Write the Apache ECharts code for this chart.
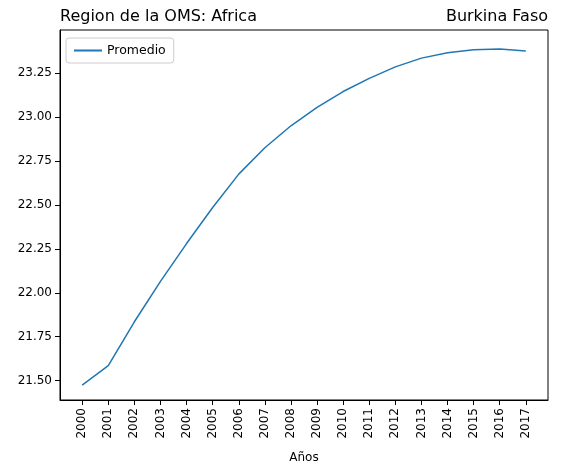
<!DOCTYPE html>
<html><head><meta charset="utf-8">
<script src="https://cdn.jsdelivr.net/npm/echarts@6/dist/echarts.min.js"></script>
<style>html,body{margin:0;padding:0;background:#fff}#c{width:565px;height:476px}</style>
</head><body><div id="c"></div>
<script>
const years = [2000,2001,2002,2003,2004,2005,2006,2007,2008,2009,2010,2011,2012,2013,2014,2015,2016,2017];
const promedio = [21.475,21.585,21.835,22.065,22.28,22.485,22.675,22.825,22.95,23.055,23.145,23.22,23.285,23.335,23.365,23.383,23.387,23.375];
const yTicks = [21.5,21.75,22.0,22.25,22.5,22.75,23.0,23.25];
const chart = echarts.init(document.getElementById('c'));
const font = 'DejaVu Sans';
chart.setOption({
  animation:false,
  textStyle:{fontFamily:font},
  title:[
    {text:'Region de la OMS: Africa',left:60,top:9,padding:0,textStyle:{fontFamily:font,fontSize:16,fontWeight:'normal',color:'#000'}},
    {text:'Burkina Faso',right:17,top:9,padding:0,textStyle:{fontFamily:font,fontSize:16,fontWeight:'normal',color:'#000'}}
  ],
  legend:{left:66,top:38,data:['Promedio'],itemWidth:28,itemHeight:2,icon:'rect',
    textStyle:{fontFamily:font,fontSize:12.5,color:'#000'},
    borderColor:'#ccc',borderWidth:1,borderRadius:3,padding:[6,8]},
  grid:{left:60,right:17,top:30,bottom:76,show:true,borderColor:'#000',borderWidth:1},
  xAxis:{type:'value',min:1999.15,max:2017.85,
    axisLine:{lineStyle:{color:'#000'}},splitLine:{show:false},
    axisTick:{customValues:years,lineStyle:{color:'#000'}},
    axisLabel:{customValues:years,rotate:90,color:'#000',fontSize:12,formatter:v=>String(v)},
    name:'Años',nameLocation:'middle',nameGap:52,nameTextStyle:{color:'#000',fontSize:12}},
  yAxis:{type:'value',min:21.39,max:23.495,
    axisLine:{show:true,lineStyle:{color:'#000'}},splitLine:{show:false},
    axisTick:{show:true,customValues:yTicks,lineStyle:{color:'#000'}},
    axisLabel:{customValues:yTicks,color:'#000',fontSize:12,formatter:v=>v.toFixed(2)}},
  series:[{name:'Promedio',type:'line',data:years.map((y,i)=>[y,promedio[i]]),
    showSymbol:false,lineStyle:{color:'#1f77b4',width:1.5},itemStyle:{color:'#1f77b4'}}]
});
</script></body></html>
